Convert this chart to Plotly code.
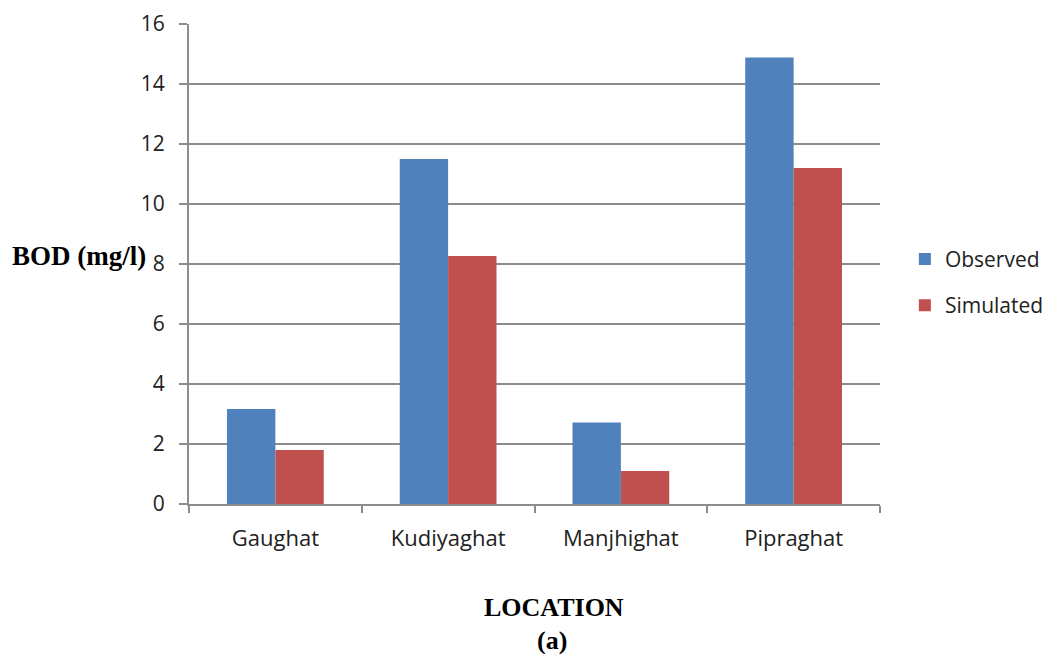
import plotly.graph_objects as go

locations = ["Gaughat", "Kudiyaghat", "Manjhighat", "Pipraghat"]
observed = [3.17, 11.5, 2.72, 14.88]
simulated = [1.8, 8.27, 1.1, 11.2]
y_ticks = [0, 2, 4, 6, 8, 10, 12, 14, 16]

font_sans = "'Open Sans', Lato, sans-serif"
font_serif = "'Liberation Serif', 'Times New Roman', serif"

fig = go.Figure()
fig.add_trace(go.Bar(x=locations, y=observed, name="Observed", marker_color="#4F81BD",
                     marker_line_width=0, legendgroup="a"))
fig.add_trace(go.Bar(x=locations, y=simulated, name="Simulated", marker_color="#C0504D",
                     marker_line_width=0, legendgroup="b"))

fig.update_layout(
    width=1055, height=654,
    margin=dict(l=181, r=183, t=16, b=158, autoexpand=False),
    paper_bgcolor="white", plot_bgcolor="white",
    barmode="group", bargap=0.44, bargroupgap=0,
    font=dict(family=font_sans, size=22, color="#222"),
    showlegend=True,
    legend=dict(x=1.036, y=0.462, xanchor="left", yanchor="middle",
                font=dict(family=font_sans, size=21, color="#222"),
                tracegroupgap=16, itemwidth=30, bgcolor="rgba(0,0,0,0)"),
    xaxis=dict(type="category", automargin=False, showgrid=False, showline=True,
               linecolor="#8c8c8c", linewidth=2,
               ticks="outside", tickson="boundaries", ticklen=7, tickcolor="#8c8c8c", tickwidth=2,
               tickfont=dict(family=font_sans, size=22, color="#222"), ticklabelstandoff=14),
    yaxis=dict(range=[0, 16], tickvals=y_ticks, automargin=False, showgrid=True,
               gridcolor="#8c8c8c", gridwidth=2,
               showline=True, linecolor="#8c8c8c", linewidth=2, zeroline=False,
               ticks="outside", ticklen=8, tickcolor="#8c8c8c", tickwidth=2,
               tickfont=dict(family=font_sans, size=21, color="#222"), ticklabelstandoff=10),
)

fig.add_annotation(text="<b>BOD (mg/l)</b>", xref="paper", yref="paper", x=-0.259, y=0.517,
                   xanchor="left", yanchor="middle", showarrow=False,
                   font=dict(family=font_serif, size=27, color="black"))
fig.add_annotation(text="<b>LOCATION</b>", xref="paper", yref="paper", x=(554 - 189) / 691,
                   y=(504 - 607) / 480, xanchor="center", yanchor="middle", showarrow=False,
                   font=dict(family=font_serif, size=26, color="black"))
fig.add_annotation(text="<b>(a)</b>", xref="paper", yref="paper", x=(552 - 189) / 691,
                   y=(504 - 640) / 480, xanchor="center", yanchor="middle", showarrow=False,
                   font=dict(family=font_serif, size=26, color="black"))

fig.write_html("out.html")
